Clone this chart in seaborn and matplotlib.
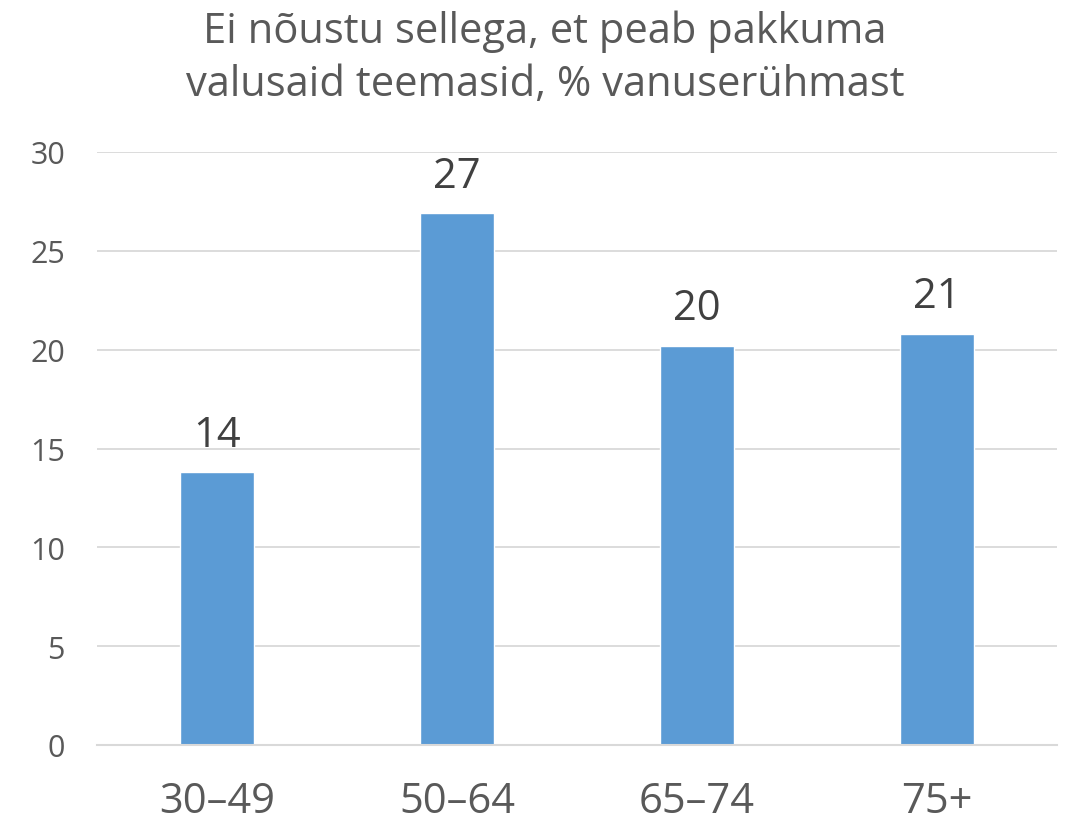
import matplotlib
matplotlib.use("Agg")
import matplotlib.pyplot as plt
import seaborn as sns
import pandas as pd

categories = ["30–49", "50–64", "65–74", "75+"]
values = [13.8, 26.9, 20.2, 20.8]
labels = ["14", "27", "20", "21"]
title = "Ei nõustu sellega, et peab pakkuma\nvalusaid teemasid, % vanuserühmast"

sns.set_theme(style="white")
plt.rcParams['font.family'] = ["Open Sans", "DejaVu Sans"]

df = pd.DataFrame({"cat": categories, "val": values})

fig = plt.figure(figsize=(10.66, 8.28), dpi=100)
ax = fig.add_axes([97/1066, 82/828, 960/1066, 593/828])
sns.barplot(data=df, x="cat", y="val", color="#5B9BD5", width=0.31, saturation=1, ax=ax)

ax.set_ylim(0, 30)
ax.set_yticks(range(0, 31, 5))
ax.set_xlim(-0.5, 3.5)
ax.yaxis.grid(True, color="#D9D9D9", linewidth=1.3)
ax.set_axisbelow(True)
for s in ["top", "right", "left"]:
    ax.spines[s].set_visible(False)
ax.spines["bottom"].set_color("#D9D9D9")
ax.spines["bottom"].set_linewidth(1.5)
ax.set_xlabel("")
ax.set_ylabel("")
ax.tick_params(axis="y", labelsize=22, labelcolor="#595959", length=0, pad=23)
ax.tick_params(axis="x", labelsize=30, labelcolor="#595959", length=0, pad=25)

for p, lab in zip(ax.patches, labels):
    ax.annotate(lab, (p.get_x() + p.get_width()/2, p.get_height()),
                xytext=(0, 12), textcoords="offset points", ha="center", va="bottom",
                fontsize=30, color="#404040")

fig.text(545/1066, 1 - 58/828, title, ha="center", va="center", fontsize=30,
         color="#595959", linespacing=1.35)

fig.savefig("out.png", dpi=100, facecolor="white")
